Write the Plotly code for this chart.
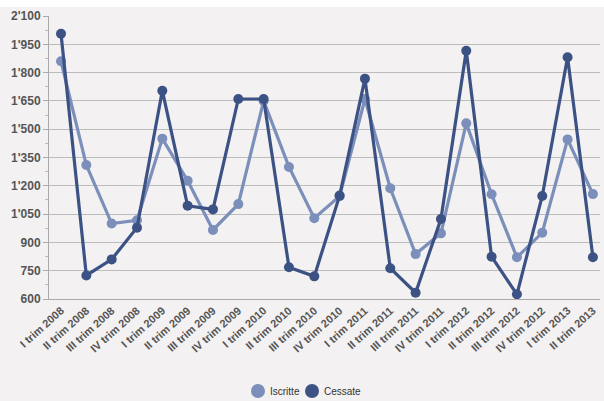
import plotly.graph_objects as go

# Quarterly counts: newly registered ("Iscritte") vs ceased ("Cessate")
categories = [
    "I trim 2008", "II trim 2008", "III trim 2008", "IV trim 2008",
    "I trim 2009", "II trim 2009", "III trim 2009", "IV trim 2009",
    "I trim 2010", "II trim 2010", "III trim 2010", "IV trim 2010",
    "I trim 2011", "II trim 2011", "III trim 2011", "IV trim 2011",
    "I trim 2012", "II trim 2012", "III trim 2012", "IV trim 2012",
    "I trim 2013", "II trim 2013",
]
iscritte = [1860, 1310, 1000, 1017, 1450, 1227, 966, 1103, 1650, 1300, 1028, 1145,
            1660, 1187, 838, 948, 1531, 1155, 821, 951, 1446, 1156]
cessate = [2006, 725, 810, 978, 1704, 1094, 1075, 1660, 1660, 768, 720, 1148,
           1768, 763, 633, 1024, 1916, 824, 625, 1146, 1881, 821]
series_names = ["Iscritte", "Cessate"]

y_ticks = list(range(600, 2101, 150))

bg = "#f3f1f1"
colors = ["#7b8fba", "#3c5284"]

# plot area in pixels, used to place the hand-drawn legend in paper units
W, H = 604, 401
L, R, T, B = 49, 4, 16, 102
pw, ph = W - L - R, H - T - B


def px_x(p):
    return (p - L) / pw


def px_y(p):
    return (H - B - p) / ph


fig = go.Figure()
for name, vals, col in zip(series_names, (iscritte, cessate), colors):
    fig.add_trace(go.Scatter(
        x=categories, y=vals, name=name, mode="lines+markers",
        line=dict(color=col, width=3.2), marker=dict(size=10, color=col),
        showlegend=False,
    ))

# legend: circle swatch followed by label
shapes = [dict(
    type="rect", xref="paper", yref="paper",
    x0=-0.2, x1=1.1, y0=px_y(7), y1=px_y(-5),
    fillcolor="white", line=dict(width=0), layer="below",
)]
annotations = []
legend_y = 391
for name, col, cx, tx in zip(series_names, colors, (258, 312), (268, 322)):
    r = 7
    shapes.append(dict(
        type="circle", xref="paper", yref="paper",
        x0=px_x(cx - r), x1=px_x(cx + r), y0=px_y(legend_y + r), y1=px_y(legend_y - r),
        fillcolor=col, line=dict(width=0),
    ))
    annotations.append(dict(
        text=name, xref="paper", yref="paper", x=px_x(tx), y=px_y(legend_y),
        xanchor="left", yanchor="middle", showarrow=False,
        font=dict(size=10, color="#333333"),
    ))

fig.update_layout(
    width=W, height=H,
    margin=dict(l=L, r=R, t=T, b=B, autoexpand=False),
    paper_bgcolor=bg, plot_bgcolor=bg,
    separators=".'",
    font=dict(family="Liberation Sans, Arial, sans-serif", color="#555555"),
    showlegend=False,
    shapes=shapes,
    annotations=annotations,
)

fig.update_xaxes(
    type="category", range=[-0.474, 21.28], automargin=False,
    tickangle=-42, tickfont=dict(size=11, weight="bold", color="#555555"),
    showgrid=False, showline=True, linecolor="#aaaaaa", linewidth=1,
    ticks="", zeroline=False,
)
fig.update_yaxes(
    range=[600, 2100], tickvals=y_ticks, tickformat=",d", automargin=False,
    tickfont=dict(size=12, weight="bold", color="#555555"),
    showgrid=True, gridcolor="#bdbdbd", gridwidth=1,
    showline=True, linecolor="#aaaaaa", linewidth=1,
    ticks="outside", ticklen=5, tickcolor="#aaaaaa",
    minor=dict(dtick=75, tick0=600, ticks="outside", ticklen=3, tickcolor="#bbbbbb", showgrid=False),
    zeroline=False,
)

fig.write_html("out.html")
